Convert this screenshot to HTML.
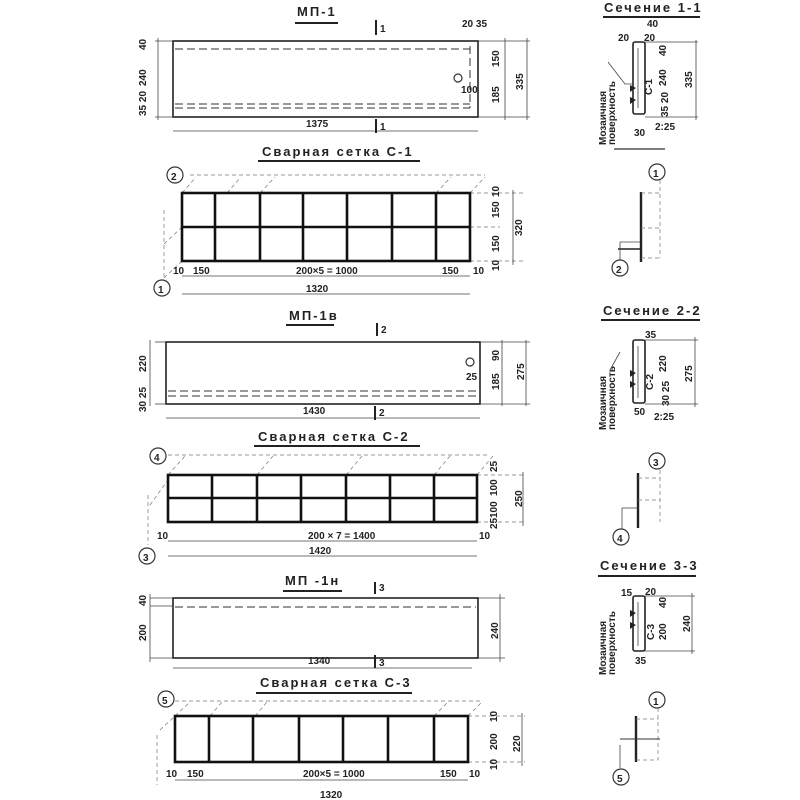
<!DOCTYPE html>
<html><head><meta charset="utf-8"><style>
html,body{margin:0;padding:0;background:#fff;}
svg{display:block;}
text{font-family:"Liberation Sans Narrow","Liberation Sans","DejaVu Sans",sans-serif;fill:#222;font-weight:bold;}
.t{font-size:10px;}
.h{font-size:13px;letter-spacing:2px;}
.o{fill:none;stroke:#222;stroke-width:1.6;}
.m{fill:none;stroke:#111;stroke-width:2.6;}
.d{fill:none;stroke:#444;stroke-width:0.8;}
.ds{fill:none;stroke:#333;stroke-width:1;stroke-dasharray:8 4;}
.dt{fill:none;stroke:#777;stroke-width:0.7;stroke-dasharray:4 3;}
.c{fill:#fff;stroke:#333;stroke-width:1.2;}
</style></head><body>
<svg width="800" height="800" viewBox="0 0 800 800" xmlns="http://www.w3.org/2000/svg">
<rect width="800" height="800" fill="#fff"/>

<!-- ===== MP-1 ===== -->
<text class="h" x="297" y="16">МП-1</text>
<line x1="295" y1="23" x2="338" y2="23" stroke="#222" stroke-width="2"/>
<line x1="376" y1="20" x2="376" y2="35" stroke="#222" stroke-width="2"/><text class="t" x="380" y="32">1</text>
<rect class="o" x="173" y="41" width="305" height="76"/>
<line class="ds" x1="175" y1="49" x2="470" y2="49"/>
<line class="ds" x1="175" y1="104" x2="470" y2="104"/>
<line class="ds" x1="175" y1="108" x2="470" y2="108"/>
<line class="ds" x1="470" y1="46" x2="470" y2="108"/>
<circle cx="458" cy="78" r="4" class="c"/>
<text class="t" x="461" y="93" font-size="9">100</text>
<text class="t" x="462" y="27">20 35</text>
<line class="d" x1="155" y1="41" x2="173" y2="41"/><line class="d" x1="155" y1="117" x2="173" y2="117"/>
<line class="d" x1="158" y1="38" x2="158" y2="120"/>
<text class="t" transform="translate(146,50) rotate(-90)">40</text>
<text class="t" transform="translate(146,86) rotate(-90)">240</text>
<text class="t" transform="translate(146,116) rotate(-90)">35 20</text>
<line class="d" x1="478" y1="41" x2="530" y2="41"/><line class="d" x1="478" y1="117" x2="530" y2="117"/>
<line class="d" x1="505" y1="38" x2="505" y2="120"/><line class="d" x1="527" y1="38" x2="527" y2="120"/>
<text class="t" transform="translate(499,67) rotate(-90)">150</text>
<text class="t" transform="translate(499,103) rotate(-90)">185</text>
<text class="t" transform="translate(523,90) rotate(-90)">335</text>
<line class="d" x1="173" y1="131" x2="478" y2="131"/>
<text class="t" x="306" y="127">1375</text>
<line x1="376" y1="119" x2="376" y2="133" stroke="#222" stroke-width="2"/><text class="t" x="380" y="130">1</text>

<!-- ===== C-1 ===== -->
<text class="h" x="262" y="156" font-size="14">Сварная  сетка  С-1</text>
<line x1="258" y1="161" x2="420" y2="161" stroke="#222" stroke-width="2"/>
<g class="dt">
<line x1="190" y1="175" x2="485" y2="175"/>
<line x1="182" y1="193" x2="196" y2="177"/><line x1="227" y1="193" x2="241" y2="177"/><line x1="260" y1="193" x2="275" y2="177"/><line x1="436" y1="193" x2="451" y2="177"/><line x1="470" y1="193" x2="485" y2="177"/>
<line x1="164" y1="210" x2="164" y2="290"/><line x1="164" y1="244" x2="182" y2="227"/><line x1="164" y1="278" x2="182" y2="261"/>
<line x1="470" y1="193" x2="525" y2="193"/><line x1="470" y1="227" x2="500" y2="227"/><line x1="470" y1="261" x2="525" y2="261"/>
</g>
<rect class="m" x="182" y="193" width="288" height="68"/>
<line class="m" x1="182" y1="227" x2="470" y2="227"/>
<g class="m"><line x1="215" y1="193" x2="215" y2="261"/><line x1="260" y1="193" x2="260" y2="261"/><line x1="303" y1="193" x2="303" y2="261"/><line x1="347" y1="193" x2="347" y2="261"/><line x1="392" y1="193" x2="392" y2="261"/><line x1="436" y1="193" x2="436" y2="261"/></g>
<circle cx="175" cy="175" r="8" class="c"/><text class="t" x="171" y="180" font-size="12" font-weight="normal">2</text>
<circle cx="162" cy="288" r="8" class="c"/><text class="t" x="158" y="293" font-size="12" font-weight="normal">1</text>
<line class="d" x1="182" y1="276" x2="470" y2="276"/><line class="d" x1="182" y1="294" x2="470" y2="294"/>
<text class="t" x="173" y="274">10</text><text class="t" x="193" y="274">150</text><text class="t" x="296" y="274">200×5 = 1000</text><text class="t" x="442" y="274">150</text><text class="t" x="473" y="274">10</text>
<text class="t" x="306" y="292">1320</text>
<line class="d" x1="513" y1="190" x2="513" y2="265"/>
<text class="t" transform="translate(499,197) rotate(-90)">10</text><text class="t" transform="translate(499,218) rotate(-90)">150</text><text class="t" transform="translate(499,252) rotate(-90)">150</text><text class="t" transform="translate(499,271) rotate(-90)">10</text>
<text class="t" transform="translate(522,236) rotate(-90)">320</text>

<!-- ===== MP-1в ===== -->
<text class="h" x="289" y="320">МП-1в</text>
<line x1="286" y1="325" x2="334" y2="325" stroke="#222" stroke-width="2"/>
<line x1="377" y1="323" x2="377" y2="336" stroke="#222" stroke-width="2"/><text class="t" x="381" y="333">2</text>
<rect class="o" x="166" y="342" width="314" height="62"/>
<line class="ds" x1="168" y1="391" x2="478" y2="391"/><line class="ds" x1="168" y1="396" x2="478" y2="396"/>
<circle cx="470" cy="362" r="4" class="c"/><text class="t" x="466" y="380" font-size="9">25</text>
<line class="d" x1="155" y1="342" x2="166" y2="342"/><line class="d" x1="155" y1="404" x2="166" y2="404"/><line class="d" x1="150" y1="340" x2="150" y2="406"/>
<text class="t" transform="translate(146,372) rotate(-90)">220</text>
<text class="t" transform="translate(146,412) rotate(-90)">30 25</text>
<line class="d" x1="480" y1="342" x2="530" y2="342"/><line class="d" x1="480" y1="404" x2="530" y2="404"/>
<line class="d" x1="502" y1="340" x2="502" y2="406"/><line class="d" x1="526" y1="340" x2="526" y2="406"/>
<text class="t" transform="translate(499,361) rotate(-90)">90</text><text class="t" transform="translate(499,390) rotate(-90)">185</text>
<text class="t" transform="translate(524,380) rotate(-90)">275</text>
<line class="d" x1="166" y1="418" x2="480" y2="418"/>
<text class="t" x="303" y="414">1430</text>
<line x1="375" y1="406" x2="375" y2="420" stroke="#222" stroke-width="2"/><text class="t" x="379" y="416">2</text>

<!-- ===== C-2 ===== -->
<text class="h" x="258" y="441" font-size="14">Сварная  сетка  С-2</text>
<line x1="254" y1="446" x2="420" y2="446" stroke="#222" stroke-width="2"/>
<g class="dt">
<line x1="168" y1="455" x2="490" y2="455"/>
<line x1="168" y1="475" x2="185" y2="456"/><line x1="257" y1="475" x2="273" y2="456"/><line x1="346" y1="475" x2="362" y2="456"/><line x1="434" y1="475" x2="450" y2="456"/><line x1="477" y1="475" x2="493" y2="456"/>
<line x1="148" y1="495" x2="148" y2="545"/><line x1="150" y1="505" x2="168" y2="480"/>
<line x1="477" y1="475" x2="525" y2="475"/><line x1="477" y1="522" x2="525" y2="522"/>
</g>
<rect class="m" x="168" y="475" width="309" height="47"/>
<line class="m" x1="168" y1="498" x2="477" y2="498"/>
<g class="m"><line x1="212" y1="475" x2="212" y2="522"/><line x1="257" y1="475" x2="257" y2="522"/><line x1="301" y1="475" x2="301" y2="522"/><line x1="346" y1="475" x2="346" y2="522"/><line x1="390" y1="475" x2="390" y2="522"/><line x1="434" y1="475" x2="434" y2="522"/></g>
<circle cx="158" cy="456" r="8" class="c"/><text class="t" x="154" y="461" font-size="12" font-weight="normal">4</text>
<circle cx="147" cy="556" r="8" class="c"/><text class="t" x="143" y="561" font-size="12" font-weight="normal">3</text>
<line class="d" x1="168" y1="541" x2="477" y2="541"/><line class="d" x1="168" y1="556" x2="477" y2="556"/>
<text class="t" x="157" y="539">10</text><text class="t" x="308" y="539">200 × 7 = 1400</text><text class="t" x="479" y="539">10</text>
<text class="t" x="309" y="554">1420</text>
<line class="d" x1="523" y1="472" x2="523" y2="526"/>
<text class="t" transform="translate(497,472) rotate(-90)" font-size="8">25</text><text class="t" transform="translate(497,496) rotate(-90)" font-size="8">100</text><text class="t" transform="translate(497,518) rotate(-90)" font-size="8">100</text><text class="t" transform="translate(497,529) rotate(-90)" font-size="8">25</text>
<text class="t" transform="translate(522,507) rotate(-90)">250</text>

<!-- ===== MP-1н ===== -->
<text class="h" x="285" y="585">МП -1н</text>
<line x1="283" y1="591" x2="342" y2="591" stroke="#222" stroke-width="2"/>
<line x1="375" y1="582" x2="375" y2="594" stroke="#222" stroke-width="2"/><text class="t" x="379" y="591">3</text>
<rect class="o" x="173" y="598" width="305" height="60"/>
<line class="ds" x1="175" y1="607" x2="476" y2="607"/>
<line class="d" x1="150" y1="598" x2="173" y2="598"/><line class="d" x1="150" y1="606" x2="173" y2="606"/><line class="d" x1="150" y1="658" x2="173" y2="658"/><line class="d" x1="150" y1="594" x2="150" y2="662"/>
<text class="t" transform="translate(146,606) rotate(-90)">40</text><text class="t" transform="translate(146,641) rotate(-90)">200</text>
<line class="d" x1="478" y1="598" x2="505" y2="598"/><line class="d" x1="478" y1="658" x2="505" y2="658"/><line class="d" x1="500" y1="594" x2="500" y2="662"/>
<text class="t" transform="translate(498,639) rotate(-90)">240</text>
<line class="d" x1="173" y1="668" x2="472" y2="668"/>
<text class="t" x="308" y="664">1340</text>
<line x1="375" y1="655" x2="375" y2="668" stroke="#222" stroke-width="2"/><text class="t" x="379" y="666">3</text>

<!-- ===== C-3 ===== -->
<text class="h" x="260" y="687" font-size="14">Сварная  сетка  С-3</text>
<line x1="256" y1="693" x2="412" y2="693" stroke="#222" stroke-width="2"/>
<g class="dt">
<line x1="175" y1="701" x2="480" y2="701"/>
<line x1="175" y1="716" x2="190" y2="702"/><line x1="210" y1="716" x2="222" y2="702"/><line x1="255" y1="716" x2="267" y2="702"/><line x1="434" y1="716" x2="448" y2="702"/><line x1="468" y1="716" x2="482" y2="702"/>
<line x1="157" y1="735" x2="157" y2="785"/><line x1="160" y1="730" x2="175" y2="716"/>
<line x1="468" y1="716" x2="525" y2="716"/><line x1="468" y1="762" x2="525" y2="762"/>
</g>
<rect class="m" x="175" y="716" width="293" height="46"/>
<g class="m"><line x1="209" y1="716" x2="209" y2="762"/><line x1="253" y1="716" x2="253" y2="762"/><line x1="299" y1="716" x2="299" y2="762"/><line x1="343" y1="716" x2="343" y2="762"/><line x1="388" y1="716" x2="388" y2="762"/><line x1="434" y1="716" x2="434" y2="762"/></g>
<circle cx="166" cy="699" r="8" class="c"/><text class="t" x="162" y="704" font-size="12" font-weight="normal">5</text>
<line class="d" x1="175" y1="780" x2="468" y2="780"/>
<text class="t" x="166" y="777">10</text><text class="t" x="187" y="777">150</text><text class="t" x="303" y="777">200×5 = 1000</text><text class="t" x="440" y="777">150</text><text class="t" x="469" y="777">10</text>
<text class="t" x="320" y="798">1320</text>
<line class="d" x1="522" y1="713" x2="522" y2="766"/>
<text class="t" transform="translate(497,722) rotate(-90)">10</text><text class="t" transform="translate(497,750) rotate(-90)">200</text><text class="t" transform="translate(497,770) rotate(-90)">10</text>
<text class="t" transform="translate(520,752) rotate(-90)">220</text>

<!-- ===== Sections ===== -->
<text class="h" x="604" y="12">Сечение 1-1</text>
<line x1="603" y1="17" x2="700" y2="17" stroke="#222" stroke-width="2"/>
<text class="t" x="647" y="27" font-size="10">40</text><text class="t" x="618" y="41" font-size="10">20</text><text class="t" x="644" y="41" font-size="10">20</text>
<rect class="o" x="633" y="42" width="12" height="72" rx="2"/>
<line class="d" x1="638" y1="48" x2="638" y2="108"/>
<path d="M608,62 L625,84 L633,84" class="d"/>
<polygon points="630,85 636,88 630,92" fill="#222"/><polygon points="630,97 636,100 630,104" fill="#222"/>
<text class="t" transform="translate(652,95) rotate(-90)" font-size="10">С-1</text>
<text class="t" transform="translate(666,56) rotate(-90)" font-size="9">40</text>
<text class="t" transform="translate(666,86) rotate(-90)" font-size="9">240</text>
<text class="t" transform="translate(668,117) rotate(-90)" font-size="8">35 20</text>
<line class="d" x1="645" y1="42" x2="698" y2="42"/><line class="d" x1="645" y1="117" x2="698" y2="117"/><line class="d" x1="696" y1="40" x2="696" y2="120"/>
<text class="t" transform="translate(692,88) rotate(-90)">335</text>
<text class="t" x="655" y="130" font-size="10">2:25</text><text class="t" x="634" y="136" font-size="10">30</text>
<text class="t" transform="translate(606,145) rotate(-90)" font-size="9">Мозаичная</text>
<text class="t" transform="translate(615,145) rotate(-90)" font-size="9">поверхность</text>
<line x1="614" y1="149" x2="665" y2="149" stroke="#333" stroke-width="1.2"/>
<circle cx="657" cy="172" r="8" class="c"/><text class="t" x="653" y="177" font-size="12" font-weight="normal">1</text>
<line x1="641" y1="192" x2="641" y2="262" stroke="#222" stroke-width="2.4"/>
<line class="dt" x1="641" y1="193" x2="660" y2="193"/><line class="dt" x1="641" y1="228" x2="660" y2="228"/><line class="dt" x1="641" y1="258" x2="660" y2="258"/><line class="dt" x1="660" y1="180" x2="660" y2="258"/>
<line x1="618" y1="249" x2="641" y2="249" stroke="#222" stroke-width="1.4"/><line class="d" x1="620" y1="242" x2="640" y2="242"/><line class="d" x1="620" y1="242" x2="620" y2="262"/>
<circle cx="620" cy="268" r="8" class="c"/><text class="t" x="616" y="273" font-size="12" font-weight="normal">2</text>

<text class="h" x="603" y="315">Сечение 2-2</text>
<line x1="601" y1="320" x2="700" y2="320" stroke="#222" stroke-width="2"/>
<text class="t" x="645" y="338" font-size="10">35</text>
<rect class="o" x="633" y="340" width="12" height="63" rx="2"/>
<line class="d" x1="638" y1="346" x2="638" y2="398"/>
<path d="M620,352 L610,370" class="d"/>
<polygon points="630,370 636,373 630,377" fill="#222"/><polygon points="630,381 636,384 630,388" fill="#222"/>
<text class="t" transform="translate(653,390) rotate(-90)" font-size="10">С-2</text>
<text class="t" transform="translate(666,372) rotate(-90)" font-size="10">220</text>
<text class="t" transform="translate(669,406) rotate(-90)" font-size="9">30 25</text>
<line class="d" x1="645" y1="340" x2="698" y2="340"/><line class="d" x1="645" y1="404" x2="698" y2="404"/><line class="d" x1="695" y1="337" x2="695" y2="407"/>
<text class="t" transform="translate(692,382) rotate(-90)">275</text>
<text class="t" x="654" y="420" font-size="10">2:25</text><text class="t" x="634" y="415" font-size="10">50</text>
<text class="t" transform="translate(606,430) rotate(-90)" font-size="9">Мозаичная</text>
<text class="t" transform="translate(615,430) rotate(-90)" font-size="9">поверхность</text>
<circle cx="657" cy="461" r="8" class="c"/><text class="t" x="653" y="466" font-size="12" font-weight="normal">3</text>
<line x1="638" y1="473" x2="638" y2="528" stroke="#222" stroke-width="2.4"/>
<line class="dt" x1="638" y1="478" x2="660" y2="478"/><line class="dt" x1="638" y1="500" x2="660" y2="500"/><line class="dt" x1="660" y1="470" x2="660" y2="522"/>
<line class="d" x1="622" y1="508" x2="638" y2="508"/><line class="d" x1="622" y1="508" x2="622" y2="530"/>
<circle cx="621" cy="537" r="8" class="c"/><text class="t" x="617" y="542" font-size="12" font-weight="normal">4</text>

<text class="h" x="600" y="570">Сечение 3-3</text>
<line x1="598" y1="576" x2="696" y2="576" stroke="#222" stroke-width="2"/>
<text class="t" x="621" y="596" font-size="10">15</text><text class="t" x="645" y="595" font-size="10">20</text>
<rect class="o" x="633" y="596" width="12" height="55" rx="2"/>
<line class="d" x1="638" y1="602" x2="638" y2="646"/>
<polygon points="630,610 636,613 630,617" fill="#222"/><polygon points="630,622 636,625 630,629" fill="#222"/>
<text class="t" transform="translate(654,640) rotate(-90)" font-size="10">С-3</text>
<text class="t" transform="translate(666,608) rotate(-90)" font-size="10">40</text>
<text class="t" transform="translate(666,640) rotate(-90)" font-size="10">200</text>
<line class="d" x1="645" y1="596" x2="695" y2="596"/><line class="d" x1="645" y1="651" x2="695" y2="651"/><line class="d" x1="692" y1="593" x2="692" y2="654"/>
<text class="t" transform="translate(690,632) rotate(-90)">240</text>
<text class="t" x="635" y="664" font-size="10">35</text>
<text class="t" transform="translate(606,675) rotate(-90)" font-size="9">Мозаичная</text>
<text class="t" transform="translate(615,675) rotate(-90)" font-size="9">поверхность</text>
<circle cx="657" cy="700" r="8" class="c"/><text class="t" x="653" y="705" font-size="12" font-weight="normal">1</text>
<line x1="636" y1="716" x2="636" y2="762" stroke="#222" stroke-width="2.4"/>
<line class="dt" x1="636" y1="719" x2="658" y2="719"/><line class="dt" x1="636" y1="760" x2="658" y2="760"/><line class="dt" x1="658" y1="708" x2="658" y2="760"/>
<line x1="620" y1="739" x2="660" y2="739" stroke="#333" stroke-width="1"/><line class="d" x1="620" y1="745" x2="620" y2="768"/>
<circle cx="621" cy="777" r="8" class="c"/><text class="t" x="617" y="782" font-size="12" font-weight="normal">5</text>
</svg>
</body></html>
